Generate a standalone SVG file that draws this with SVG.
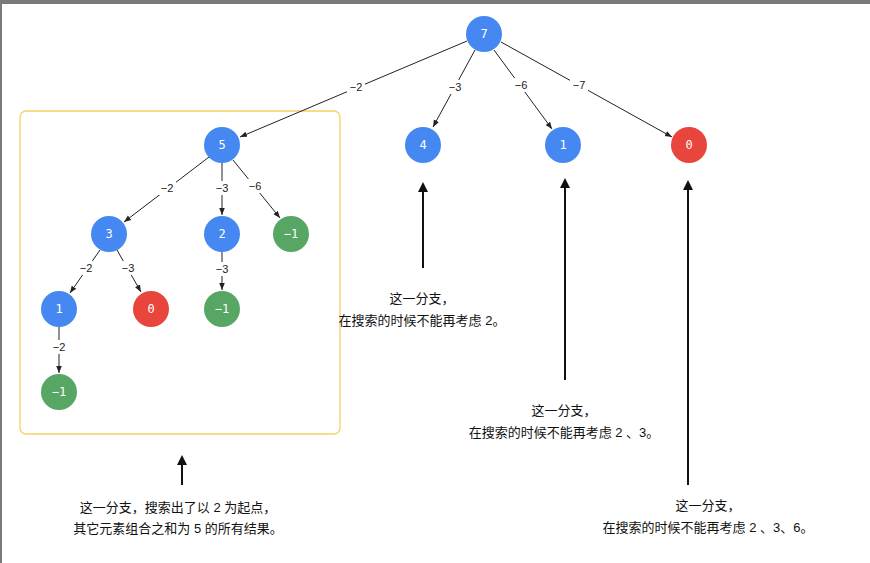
<svg xmlns="http://www.w3.org/2000/svg" width="870" height="563" viewBox="0 0 870 563">
<style>
.b{fill:#4688f1}.r{fill:#e8453c}.g{fill:#57a664}
.n text{fill:#fff;font:12px "DejaVu Sans Mono",monospace;text-anchor:middle;dominant-baseline:central}
.e line{stroke:#222;stroke-width:1}
.l{font:11px "Liberation Sans",sans-serif;text-anchor:middle;dominant-baseline:central;fill:#222}
.lb{fill:#fff}
.t{font:13px "Liberation Sans","Noto Sans CJK SC",sans-serif;text-anchor:middle;fill:#111}
.big line{stroke:#111;stroke-width:2}
</style>
<defs>
<marker id="a" viewBox="0 0 10 10" refX="10" refY="5" markerWidth="7" markerHeight="7" orient="auto"><path d="M0,1L10,5L0,9z" fill="#222"/></marker>
<marker id="A" viewBox="0 0 10 10" refX="8" refY="5" markerWidth="5" markerHeight="5" orient="auto"><path d="M0,0L10,5L0,10z" fill="#111"/></marker>
</defs>
<rect width="870" height="563" fill="#fff"/>
<rect width="870" height="4" fill="#7a7a7a"/>
<rect width="2" height="563" fill="#7a7a7a"/>
<rect x="20" y="111" width="320" height="323" rx="6" fill="none" stroke="#f8d06a" stroke-width="1.3"/>
<g class="e" id="connectors">
<line x1="467" y1="41" x2="240" y2="137" marker-end="url(#a)"/>
<line x1="475" y1="50" x2="433" y2="127" marker-end="url(#a)"/>
<line x1="494" y1="50" x2="552" y2="129" marker-end="url(#a)"/>
<line x1="501" y1="42" x2="672" y2="137" marker-end="url(#a)"/>
<line x1="209" y1="157" x2="124" y2="222" marker-end="url(#a)"/>
<line x1="222" y1="163" x2="222" y2="215" marker-end="url(#a)"/>
<line x1="233" y1="160" x2="280" y2="218" marker-end="url(#a)"/>
<line x1="100" y1="250" x2="70" y2="293" marker-end="url(#a)"/>
<line x1="117" y1="250" x2="141" y2="292" marker-end="url(#a)"/>
<line x1="222" y1="252" x2="222" y2="290" marker-end="url(#a)"/>
<line x1="59" y1="327" x2="59" y2="373" marker-end="url(#a)"/>
</g>
<g id="labels">
<rect class="lb" x="347" y="80" width="18" height="14"/><text class="l" x="356" y="87">−2</text>
<rect class="lb" x="446" y="80" width="18" height="14"/><text class="l" x="455" y="87">−3</text>
<rect class="lb" x="512" y="78" width="18" height="14"/><text class="l" x="521" y="85">−6</text>
<rect class="lb" x="570" y="78" width="18" height="14"/><text class="l" x="579" y="85">−7</text>
<rect class="lb" x="158" y="181" width="18" height="14"/><text class="l" x="167" y="188">−2</text>
<rect class="lb" x="213" y="181" width="18" height="14"/><text class="l" x="222" y="188">−3</text>
<rect class="lb" x="246" y="179" width="18" height="14"/><text class="l" x="255" y="186">−6</text>
<rect class="lb" x="77" y="261" width="18" height="14"/><text class="l" x="86" y="268">−2</text>
<rect class="lb" x="119" y="261" width="18" height="14"/><text class="l" x="128" y="268">−3</text>
<rect class="lb" x="213" y="262" width="18" height="14"/><text class="l" x="222" y="269">−3</text>
<rect class="lb" x="50" y="340" width="18" height="14"/><text class="l" x="59" y="347">−2</text>
</g>
<g class="n" id="n7"><circle class="b" cx="484" cy="34" r="18"/><text x="484" y="34">7</text></g>
<g class="n" id="n4"><circle class="b" cx="423" cy="145" r="18"/><text x="423" y="145">4</text></g>
<g class="n" id="n1a"><circle class="b" cx="563" cy="145" r="18"/><text x="563" y="145">1</text></g>
<g class="n" id="n0a"><circle class="r" cx="689" cy="145" r="18"/><text x="689" y="145">0</text></g>
<g class="n" id="n5"><circle class="b" cx="222" cy="145" r="18"/><text x="222" y="145">5</text></g>
<g class="n" id="n3"><circle class="b" cx="109" cy="234" r="18"/><text x="109" y="234">3</text></g>
<g class="n" id="n2"><circle class="b" cx="222" cy="234" r="18"/><text x="222" y="234">2</text></g>
<g class="n" id="nm1a"><circle class="g" cx="291" cy="234" r="18"/><text x="291" y="234">−1</text></g>
<g class="n" id="n1b"><circle class="b" cx="59" cy="309" r="18"/><text x="59" y="309">1</text></g>
<g class="n" id="n0b"><circle class="r" cx="151" cy="309" r="18"/><text x="151" y="309">0</text></g>
<g class="n" id="nm1b"><circle class="g" cx="222" cy="309" r="18"/><text x="222" y="309">−1</text></g>
<g class="n" id="nm1c"><circle class="g" cx="59" cy="392" r="18"/><text x="59" y="392">−1</text></g>
<g class="big" id="pointers">
<line x1="423" y1="268" x2="423" y2="184" marker-end="url(#A)"/>
<line x1="565" y1="380" x2="565" y2="180" marker-end="url(#A)"/>
<line x1="688" y1="485" x2="688" y2="182" marker-end="url(#A)"/>
<line x1="182" y1="485" x2="182" y2="457" marker-end="url(#A)"/>
</g>
<g id="notes">
<text class="t" x="422" y="303">这一分支，</text>
<text class="t" x="422" y="325">在搜索的时候不能再考虑 2。</text>
<text class="t" x="564" y="415">这一分支，</text>
<text class="t" x="564" y="437">在搜索的时候不能再考虑 2 、3。</text>
<text class="t" x="708" y="510">这一分支，</text>
<text class="t" x="708" y="532">在搜索的时候不能再考虑 2 、3、6。</text>
<text class="t" x="178" y="512">这一分支，搜索出了以 2 为起点，</text>
<text class="t" x="178" y="533">其它元素组合之和为 5 的所有结果。</text>
</g>
</svg>
